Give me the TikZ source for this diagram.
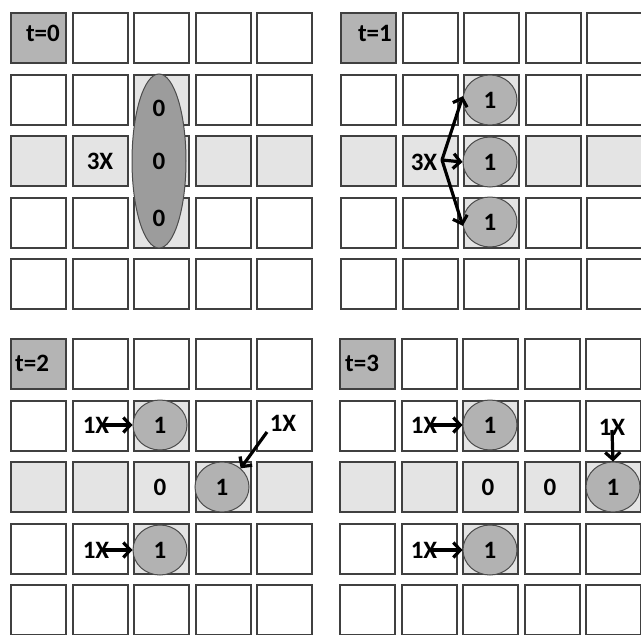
\documentclass[tikz,border=0pt]{standalone}
\usepackage{fontspec}
\setmainfont{Carlito}
\usetikzlibrary{arrows.meta,shapes.geometric}
\definecolor{cell0}{HTML}{FFFFFF}
\definecolor{cell1}{HTML}{E4E4E4}
\definecolor{cell2}{HTML}{B4B4B4}
\definecolor{bigblob}{HTML}{9C9C9C}
\definecolor{blob}{HTML}{B2B2B2}
\tikzset{
  gridcell/.style={draw=black!75, line width=2pt, minimum width=55pt, minimum height=50pt, inner sep=0pt, anchor=north west},
  lbl/.style={font=\bfseries\fontsize{25}{25}\selectfont, inner sep=0pt},
  agent/.style={ellipse, draw=black!70, line width=1pt, fill=blob, minimum width=54pt, minimum height=50pt, inner sep=0pt, font=\bfseries\fontsize{25}{25}\selectfont},
  group/.style={ellipse, draw=black!70, line width=1pt, fill=bigblob, minimum width=54pt, minimum height=174pt, inner sep=0pt},
  arr/.style={line width=3.2pt, -{Straight Barb[length=7pt,width=15pt,line width=3.2pt]}}
}
\begin{document}
\begin{tikzpicture}[x=1pt,y=-1pt]
\useasboundingbox (0,0) rectangle (641,635);
% four 5x5 grids
\foreach \g/\gx/\gy in {a/10/12, b/340/12, c/10/338, d/339/338}{
  \foreach \r in {1,...,5}{
    \foreach \c in {1,...,5}{
      \pgfmathtruncatemacro\shade{(\r==1 && \c==1) ? 2 : ((\r==3 || (\c==3 && \r>1 && \r<5)) ? 1 : 0)}
      \node[gridcell, fill=cell\shade] (\g-\r-\c) at ({\gx+61.5*(\c-1)},{\gy+61.5*(\r-1)}) {};
    }
  }
}
% time labels
\node[lbl, anchor=east] (ta) at (60,33) {t=0};
\node[lbl, anchor=east] (tb) at (392,33) {t=1};
\node[lbl, anchor=west] (tc) at (15,363) {t=2};
\node[lbl, anchor=west] (td) at (345,363) {t=3};

% t=0
\node[group] (a-blob) at (159,161) {};
\node[lbl] (a-z1) at (159,108) {0};
\node[lbl] (a-z2) at (159,161) {0};
\node[lbl] (a-z3) at (159,218) {0};
\node[lbl] (a-x) at (100,161) {3X};

% t=1
\node[agent] (b-o1) at (490,100) {1};
\node[agent] (b-o2) at (490,162) {1};
\node[agent] (b-o3) at (490,222) {1};
\node[lbl] (b-x) at (424,162) {3X};
\coordinate (b-s) at (442,160);
\draw[arr] (b-s) -- (b-o1.172);
\draw[arr] (b-s) -- (b-o2.west);
\draw[arr] (b-s) -- (b-o3.188);

% t=2
\node[agent] (c-o1) at (160,425) {1};
\node[agent] (c-o2) at (222,487) {1};
\node[agent] (c-o3) at (160,550) {1};
\node[lbl] (c-z) at (160,487) {0};
\node[lbl] (c-x1) at (96,425) {1X};
\node[lbl] (c-x2) at (96,550) {1X};
\node[lbl] (c-x3) at (283,423) {1X};
\draw[arr] (c-x1.center) ++(7,0) coordinate (c-s1) -- (c-o1.west);
\draw[arr] (c-x2.center) ++(7,0) coordinate (c-s2) -- (c-o3.west);
\coordinate (c-s3) at (267,432);
\draw[arr] (c-s3) -- (c-o2.45);

% t=3
\node[agent] (d-o1) at (490,425) {1};
\node[agent] (d-o2) at (613,487) {1};
\node[agent] (d-o3) at (490,550) {1};
\node[lbl] (d-z1) at (488,487) {0};
\node[lbl] (d-z2) at (550,487) {0};
\node[lbl] (d-x1) at (424,425) {1X};
\node[lbl] (d-x2) at (424,550) {1X};
\node[lbl] (d-x3) at (612,427) {1X};
\draw[arr] (d-x1.center) ++(8,0) coordinate (d-s1) -- (d-o1.west);
\draw[arr] (d-x2.center) ++(8,0) coordinate (d-s2) -- (d-o3.west);
\draw[arr] (d-x3.center) ++(0,3) coordinate (d-s3) -- (d-o2.north);
\end{tikzpicture}
\end{document}
